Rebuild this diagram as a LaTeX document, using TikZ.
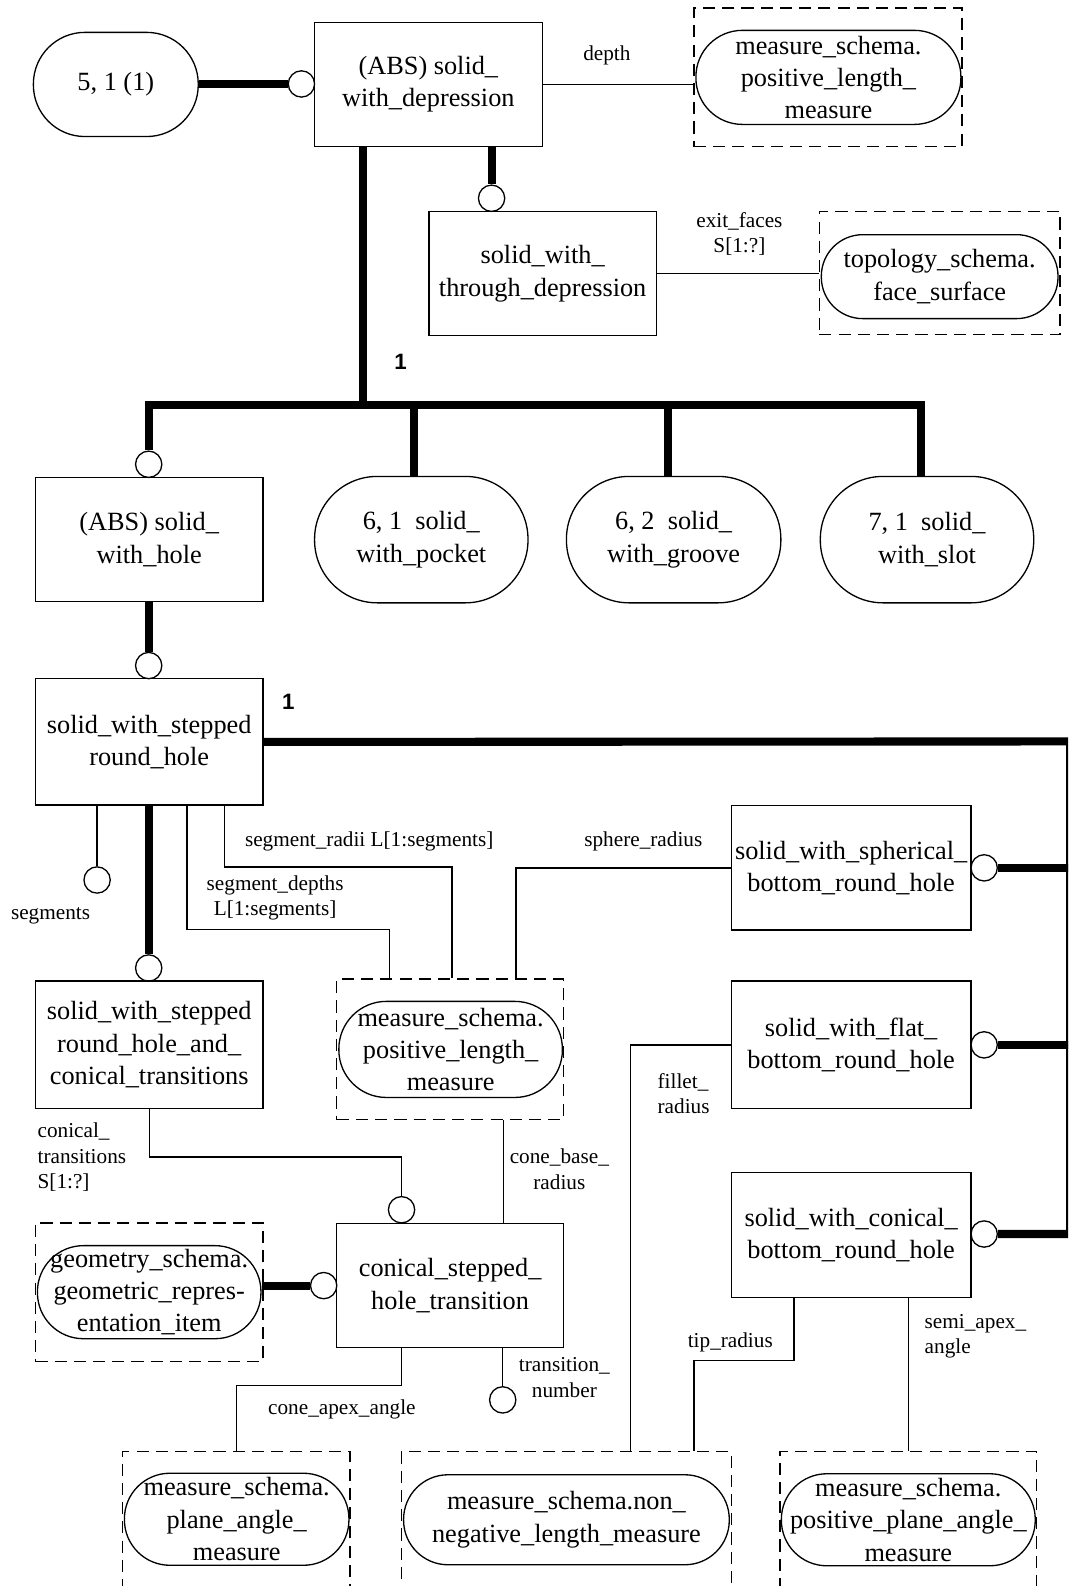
\documentclass[tikz,border=0pt]{standalone}
\usepackage{fontspec}
\setmainfont{Liberation Serif}
\setsansfont{Liberation Sans}

\tikzstyle{entity}=[rectangle,draw=black,line width=1.3pt,inner sep=0pt,align=center,font=\fontsize{26}{32}\selectfont]
\tikzstyle{typeref}=[rectangle,draw=black,line width=1.3pt,inner sep=0pt,align=center,font=\fontsize{26}{32}\selectfont]
\tikzstyle{frame}=[rectangle,draw=black,line width=1.3pt,dash pattern=on 12pt off 7pt,inner sep=0pt]
\tikzstyle{ring}=[circle,draw=black,fill=white,line width=1.3pt,inner sep=0pt,minimum size=26pt]
\tikzstyle{heavy}=[line width=8pt]
\tikzstyle{link}=[line width=1.3pt]
\tikzstyle{role}=[inner sep=0pt,align=center,font=\fontsize{21}{25}\selectfont]
\tikzstyle{num}=[inner sep=0pt,font=\sffamily\bfseries\fontsize{22}{22}\selectfont]

\begin{document}
\begin{tikzpicture}[x=1pt,y=-1pt]
			\useasboundingbox (0,0) rectangle (1056,1568);
			\clip (0,0) rectangle (1056,1568);
			
			% top part
			\node (r51) at (114.5,83.5) [typeref,minimum width=163pt,minimum height=103pt,rounded corners=51pt] {5, 1 (1)};
			\node (c1) at (298,83) [ring] {};
			\node (dep) at (423.5,83.5) [entity,minimum width=225pt,minimum height=123pt] {(ABS) solid\_\\with\_depression};
			\node (f1) at (818.5,76.5) [frame,minimum width=265pt,minimum height=137pt] {};
			\node (m1) at (819,76.5) [typeref,minimum width=262pt,minimum height=93pt,rounded corners=46pt] {measure\_schema.\\positive\_length\_\\measure};
			\node (c2) at (486,196) [ring] {};
			\node (thr) at (536.5,270.5) [entity,minimum width=225pt,minimum height=123pt] {solid\_with\_\\through\_depression};
			\node (f2) at (929,270) [frame,minimum width=238pt,minimum height=122pt] {};
			\node (m2) at (929,273.5) [typeref,minimum width=234pt,minimum height=83pt,rounded corners=41pt] {topology\_schema.\\face\_surface};
			\coordinate (trunk) at (359,400);
			
			% subtypes
			\node (c3) at (147,459) [ring] {};
			\node (hole) at (147.5,533.5) [entity,minimum width=225pt,minimum height=123pt] {(ABS) solid\_\\with\_hole};
			\node (pocket) at (416.5,533.5) [typeref,minimum width=211pt,minimum height=125pt,rounded corners=62pt] {6, 1\ \ solid\_\\with\_pocket};
			\node (groove) at (666,533.5) [typeref,minimum width=212pt,minimum height=125pt,rounded corners=62pt] {6, 2\ \ solid\_\\with\_groove};
			\node (slot) at (916.5,533.5) [typeref,minimum width=211pt,minimum height=125pt,rounded corners=62pt] {7, 1\ \ solid\_\\with\_slot};
			
			% stepped hole
			\node (c4) at (147,658) [ring] {};
			\node (shr) at (147.5,733.5) [entity,minimum width=225pt,minimum height=125pt] {solid\_with\_stepped\\round\_hole};
			\coordinate (edge) at (1058,733);
			\node (c5) at (96,870) [ring] {};
			\node (c6) at (147,957) [ring] {};
			\node (sc) at (147.5,1033) [entity,minimum width=225pt,minimum height=126pt] {solid\_with\_stepped\\round\_hole\_and\_\\conical\_transitions};
			\node (f3) at (445,1037.5) [frame,minimum width=224pt,minimum height=139pt] {};
			\node (m3) at (445.5,1037.5) [typeref,minimum width=221pt,minimum height=95pt,rounded corners=47pt] {measure\_schema.\\positive\_length\_\\measure};
			\node (sph) at (841.5,858) [entity,minimum width=237pt,minimum height=123pt] {solid\_with\_spherical\_\\bottom\_round\_hole};
			\node (c7) at (973,858) [ring] {};
			\node (flat) at (841.5,1033) [entity,minimum width=237pt,minimum height=126pt] {solid\_with\_flat\_\\bottom\_round\_hole};
			\node (c8) at (973,1033) [ring] {};
			\node (cbr) at (841.5,1221) [entity,minimum width=237pt,minimum height=124pt] {solid\_with\_conical\_\\bottom\_round\_hole};
			\node (c9) at (973,1220) [ring] {};
			
			% transition
			\node (c10) at (397,1196) [ring] {};
			\node (cst) at (445,1271) [entity,minimum width=224pt,minimum height=123pt] {conical\_stepped\_\\hole\_transition};
			\node (f4) at (147.5,1277.5) [frame,minimum width=225pt,minimum height=137pt] {};
			\node (m4) at (147.5,1277.5) [typeref,minimum width=221pt,minimum height=92pt,rounded corners=45.5pt] {geometry\_schema.\\geometric\_repres-\\entation\_item};
			\node (c11) at (320,1271) [ring] {};
			\node (c12) at (497,1384) [ring] {};
			
			% bottom row
			\node (f5) at (233.5,1517.5) [frame,minimum width=225pt,minimum height=165pt] {};
			\node (m5) at (234,1502) [typeref,minimum width=222pt,minimum height=91pt,rounded corners=45pt] {measure\_schema.\\plane\_angle\_\\measure};
			\node (f6) at (560,1517.5) [frame,minimum width=326pt,minimum height=165pt] {};
			\node (m6) at (560,1502.5) [typeref,minimum width=322pt,minimum height=89pt,rounded corners=44pt] {measure\_schema.non\_\\negative\_length\_measure};
			\node (f7) at (898,1517.5) [frame,minimum width=254pt,minimum height=165pt] {};
			\node (m7) at (898,1502.5) [typeref,minimum width=251pt,minimum height=91pt,rounded corners=45pt] {measure\_schema.\\positive\_plane\_angle\_\\measure};
			
			\coordinate (lvR) at (0,857);
			\coordinate (lvD) at (0,919);
			\coordinate (lvT) at (0,1144);
			\coordinate (lvP) at (0,1345);
			\coordinate (lvA) at (0,1370);
			
			% labels
			\node (ldepth) at (600,55) [role] {depth};
			\node (lexit) at (731,231) [role] {exit\_faces\\S[1:?]};
			\node (n1) at (396,358) [num] {1};
			\node (n2) at (285,694) [num] {1};
			\node (lradii) at (365,832) [role] {segment\_radii L[1:segments]};
			\node (ldepths) at (272,888) [role] {segment\_depths\\L[1:segments]};
			\node (lsphere) at (636,832) [role] {sphere\_radius};
			\node (lsegs) at (50,905) [role] {segments};
			\node (lfillet) at (650,1081) [role,anchor=west,align=left] {fillet\_\\radius};
			\node (lbase) at (553,1156) [role] {cone\_base\_\\radius};
			\node (ltrans) at (37,1144) [role,anchor=west,align=left] {conical\_\\transitions\\S[1:?]};
			\node (lapex) at (338,1393) [role] {cone\_apex\_angle};
			\node (lnumber) at (558,1362) [role] {transition\_\\number};
			\node (ltip) at (722,1327) [role] {tip\_radius};
			\node (lsemi) at (914,1321) [role,anchor=west,align=left] {semi\_apex\_\\angle};
			
			\draw [heavy] (r51.east |- c1) -- (c1);
			\draw [link] (dep.east) -- (dep.east -| f1.west);
			\draw [heavy] (dep.south -| c2) -- (c2);
			\draw [link] (thr.east) -- (thr.east -| f2.west);
			\draw [heavy] (dep.south -| trunk) -- (trunk);
			\draw [heavy] (c3) |- (trunk) -| ([xshift=-6pt]slot.north);
			\draw [heavy] ([xshift=-7pt]pocket.north) -- ([xshift=-7pt]pocket.north |- trunk);
			\draw [heavy] ([xshift=-6pt]groove.north) -- ([xshift=-6pt]groove.north |- trunk);
			\draw [heavy] (hole.south -| c4) -- (c4);
			
			\draw [heavy] (shr.east) -- (edge) -- (edge |- c9) -- (c9);
			\draw [heavy] (c7) -- (c7 -| edge);
			\draw [heavy] (c8) -- (c8 -| edge);
			\draw [link] (shr.south -| c5) -- (c5);
			\draw [heavy] (shr.south -| c6) -- (c6);
			\draw [link] ([xshift=37.5pt]shr.south) -- ([xshift=37.5pt]shr.south |- lvD) -| ([xshift=-60pt]f3.north);
			\draw [link] ([xshift=74.5pt]shr.south) -- ([xshift=74.5pt]shr.south |- lvR) -| ([xshift=2pt]f3.north);
			\draw [link] (sph.west) -| ([xshift=65pt]f3.north);
			\draw [link] (flat.west) -| ([xshift=63pt]f6.north);
			\draw [link] ([xshift=53pt]f3.south) -- ([xshift=53pt]cst.north);
			\draw [link] (sc.south) -- (sc.south |- lvT) -| (c10);
			\draw [heavy] (m4.east |- c11) -- (c11);
			\draw [link] ([xshift=-48pt]cst.south) -- ([xshift=-48pt]cst.south |- lvA) -| (f5.north);
			\draw [link] ([xshift=52pt]cst.south) -- (c12);
			\draw [link] ([xshift=-56.5pt]cbr.south) -- ([xshift=-56.5pt]cbr.south |- lvP) -| ([xshift=126pt]f6.north);
			\draw [link] ([xshift=56.5pt]cbr.south) -- ([xshift=56.5pt]cbr.south |- f7.north);
		\end{tikzpicture}
\end{document}
